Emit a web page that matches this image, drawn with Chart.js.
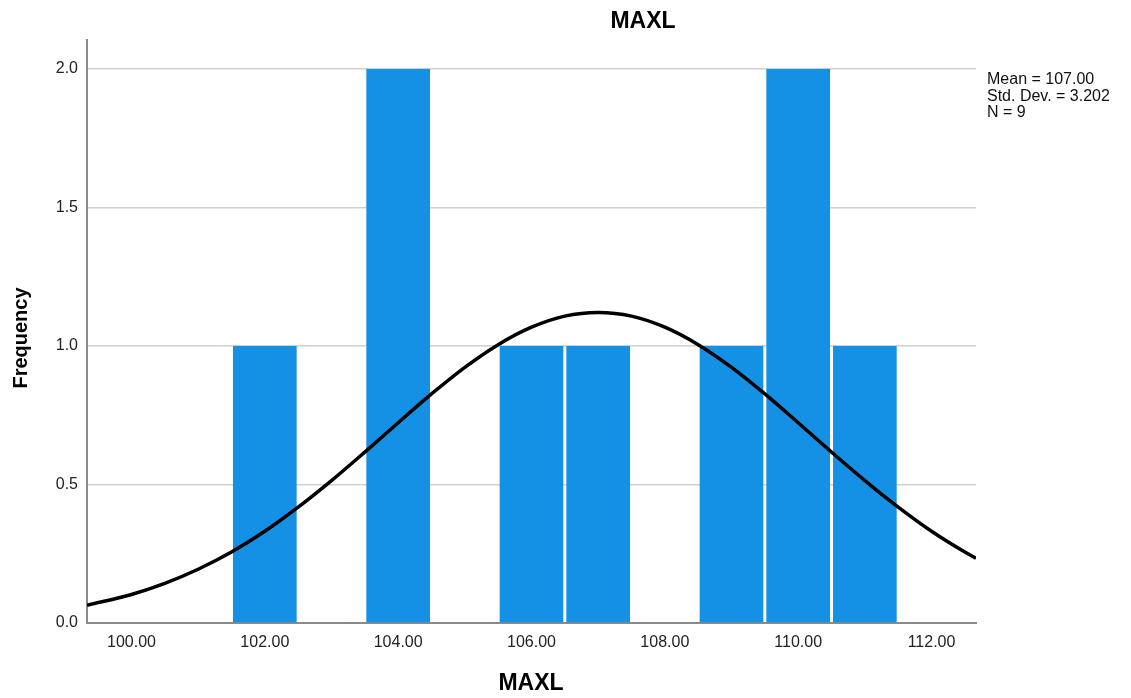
<!DOCTYPE html>
<html>
<head>
<meta charset="utf-8">
<script src="https://cdn.jsdelivr.net/npm/chart.js@4/dist/chart.umd.min.js"></script>
<style>
  html, body { margin: 0; padding: 0; background: #fff; }
  #wrap { width: 1131px; height: 698px; }
</style>
</head>
<body>
<div id="wrap"><canvas id="c" width="1131" height="698"></canvas></div>
<script>
// Histogram bins (MAXL value) and their frequencies
const binCenters = [102, 104, 106, 107, 109, 110, 111];
const binCounts  = [1, 2, 1, 1, 1, 2, 1];

// Fitted normal curve, sampled along the axis
const curveX = [99.333, 100, 100.5, 101, 101.5, 102, 102.5, 103, 103.5, 104, 104.5, 105, 105.5, 106, 106.5,
                107, 107.5, 108, 108.5, 109, 109.5, 110, 110.5, 111, 111.5, 112, 112.5, 112.667];
const curveY = [0.064, 0.103, 0.143, 0.194, 0.256, 0.331, 0.418, 0.514, 0.617, 0.723, 0.827, 0.923, 1.005, 1.068, 1.108,
                1.121, 1.108, 1.068, 1.005, 0.923, 0.827, 0.723, 0.617, 0.514, 0.418, 0.331, 0.256, 0.234];

// Axis ticks
const xTicks = [100, 102, 104, 106, 108, 110, 112];
const yTicks = [0, 0.5, 1.0, 1.5, 2.0];

// Texts
const chartTitle = 'MAXL';
const xTitle = 'MAXL';
const yTitle = 'Frequency';
const statsLines = ['Mean = 107.00', 'Std. Dev. = 3.202', 'N = 9'];

const FONT = '"Liberation Sans", Arial, sans-serif';

const textPlugin = {
  id: 'texts',
  afterDraw(chart) {
    const ctx = chart.ctx;
    const area = chart.chartArea;
    ctx.save();
    ctx.fillStyle = '#000';
    ctx.textAlign = 'center';
    ctx.textBaseline = 'middle';
    ctx.font = 'bold 23px ' + FONT;
    ctx.fillText(chartTitle, 643, 22);
    ctx.font = 'bold 23px ' + FONT;
    ctx.fillText(xTitle, 531, 684);
    ctx.save();
    ctx.translate(21, 338);
    ctx.rotate(-Math.PI / 2);
    ctx.font = 'bold 20px ' + FONT;
    ctx.fillText(yTitle, 0, 0);
    ctx.restore();
    ctx.textAlign = 'left';
    ctx.textBaseline = 'alphabetic';
    ctx.font = '16px ' + FONT;
    ctx.fillStyle = '#111';
    statsLines.forEach((s, i) => ctx.fillText(s, area.right + 11, 84 + i * 16.5));
    ctx.restore();
  }
};

new Chart(document.getElementById('c'), {
  data: {
    datasets: [
      {
        type: 'line',
        data: curveX.map((x, i) => ({ x: x, y: curveY[i] })),
        borderColor: '#000',
        borderWidth: 3.5,
        pointRadius: 0,
        tension: 0.4,
        cubicInterpolationMode: 'monotone',
        fill: false,
        order: 0
      },
      {
        type: 'bar',
        data: binCenters.map((x, i) => ({ x: x, y: binCounts[i] })),
        backgroundColor: '#1490e5',
        borderWidth: 0,
        barPercentage: 0.955,
        categoryPercentage: 1,
        grouped: false,
        order: 1
      }
    ]
  },
  options: {
    responsive: false,
    animation: false,
    devicePixelRatio: 1,
    layout: { padding: { top: 40, right: 155, left: 0, bottom: 0 } },
    plugins: { legend: { display: false }, tooltip: { enabled: false }, title: { display: false } },
    scales: {
      x: {
        type: 'linear',
        min: 99.333,
        max: 112.667,
        offset: false,
        afterBuildTicks(scale) { scale.ticks = xTicks.map(v => ({ value: v })); },
        afterFit(scale) { scale.height = 75; },
        grid: { display: false, drawTicks: false, offset: false },
        border: { display: true, color: '#8a8a8a', width: 2 },
        ticks: {
          padding: 10,
          maxRotation: 0,
          autoSkip: false,
          color: '#222',
          font: { family: FONT, size: 16 },
          callback: v => Number(v).toFixed(2)
        }
      },
      y: {
        type: 'linear',
        min: 0,
        max: 2.105,
        afterBuildTicks(scale) { scale.ticks = yTicks.map(v => ({ value: v })); },
        afterFit(scale) { scale.width = 87; },
        grid: { color: '#d0d0d0', lineWidth: 1.5, drawTicks: false },
        border: { display: true, color: '#8a8a8a', width: 2 },
        ticks: {
          padding: 9,
          color: '#222',
          font: { family: FONT, size: 16 },
          callback: v => Number(v).toFixed(1)
        }
      }
    }
  },
  plugins: [textPlugin]
});
</script>
</body>
</html>
